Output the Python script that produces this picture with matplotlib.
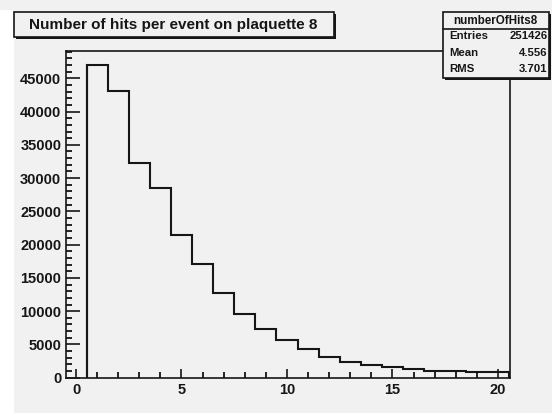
import matplotlib
matplotlib.use('Agg')
import matplotlib.pyplot as plt
from matplotlib.patches import Rectangle
import numpy as np

# histogram contents, one bin per integer 1..20
bin_centers = list(range(1, 21))
counts = [46950, 43100, 32200, 28500, 21500, 17100, 12800, 9500, 7300, 5670,
          4300, 3160, 2400, 1900, 1560, 1300, 1050, 1050, 800, 800]

title = 'Number of hits per event on plaquette 8'
stats_name = 'numberOfHits8'
stats_rows = [('Entries', '251426'), ('Mean', '4.556'), ('RMS', '3.701')]

W, H = 552, 413
bg = '#f1f1f1'
ink = '#161616'
plt.rcParams['font.family'] = ['Liberation Sans', 'DejaVu Sans']

fig = plt.figure(figsize=(W / 100, H / 100), dpi=100, facecolor=bg)


def fx(px):
    return px / W


def fy(py):
    return 1 - py / H


def box(x0, y0, x1, y1, shadow=2, lw=1.2):
    # ROOT style pave: shadow then frame, coordinates in pixels from top-left
    fig.patches.append(Rectangle((fx(x0 + shadow), fy(y1 + shadow)), fx(x1 - x0), (y1 - y0) / H,
                                 transform=fig.transFigure, facecolor=ink, edgecolor='none', zorder=5))
    fig.patches.append(Rectangle((fx(x0), fy(y1)), fx(x1 - x0), (y1 - y0) / H,
                                 transform=fig.transFigure, facecolor=bg, edgecolor=ink, lw=lw, zorder=6))


# white strip on the left edge of the canvas
fig.patches.append(Rectangle((0, 0), fx(14), fy(10), transform=fig.transFigure,
                             facecolor='white', edgecolor='none', zorder=0))

ax = fig.add_axes([fx(66.3), fy(377.7), fx(510 - 66.3), (377.7 - 51) / H])
ax.set_facecolor(bg)
edges = np.array(bin_centers + [bin_centers[-1] + 1]) - 0.5
ax.stairs(counts, edges, baseline=0, color=ink, lw=1.5)
ax.vlines(edges[0], 0, counts[0], color=ink, lw=1.5)

ax.set_xlim(-0.46, 20.57)
ax.set_ylim(0, 49100)
ax.set_xticks([0, 5, 10, 15, 20])
ax.set_xticks(np.arange(0, 21, 1), minor=True)
ax.set_yticks(np.arange(0, 45001, 5000))
ax.set_yticks(np.arange(0, 49001, 1000), minor=True)
for s in ax.spines.values():
    s.set_color(ink)
    s.set_linewidth(1.2)
ax.tick_params(axis='y', which='major', direction='in', length=10, width=1.2, pad=3.6,
               labelsize=10.5, colors=ink)
ax.tick_params(axis='y', which='minor', direction='in', length=4.3, width=1.2)
ax.tick_params(axis='x', which='major', direction='in', length=6.5, width=1.2, pad=3.6,
               labelsize=10.5, colors=ink)
ax.tick_params(axis='x', which='minor', direction='in', length=4, width=1.2)
for lab in ax.get_xticklabels() + ax.get_yticklabels():
    lab.set_fontweight('bold')

# title pave
box(14, 12, 334, 37)
fig.text(fx(29), fy(24.5), title, ha='left', va='center', fontsize=11,
         fontweight='bold', color=ink, zorder=7)

# stats pave
box(442.7, 11.7, 549, 78.3, shadow=2)
fig.lines.append(plt.Line2D([fx(442.7), fx(549)], [fy(29), fy(29)], transform=fig.transFigure,
                            color=ink, lw=1.2, zorder=7))
fig.text(fx(495.8), fy(20.7), stats_name, ha='center', va='center', fontsize=8.4,
         fontweight='bold', color=ink, zorder=7)
for i, (k, v) in enumerate(stats_rows):
    yy = fy(35.8 + i * 16.7)
    fig.text(fx(449), yy, k, ha='left', va='center', fontsize=8.2, fontweight='bold', color=ink, zorder=7)
    fig.text(fx(547.5), yy, v, ha='right', va='center', fontsize=8.2, fontweight='bold', color=ink, zorder=7)

plt.savefig('out.png', dpi=100, facecolor=bg)
